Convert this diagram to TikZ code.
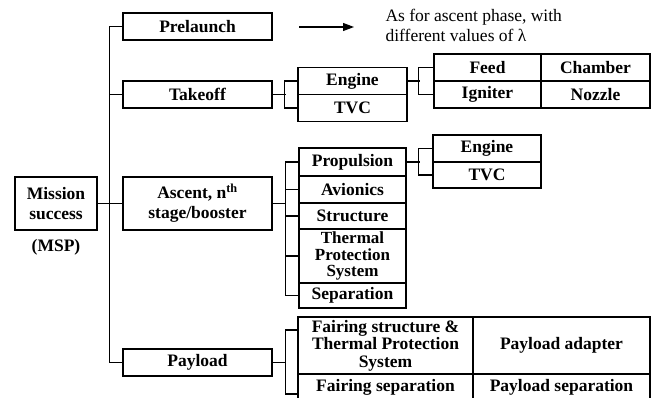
\documentclass[tikz,border=0pt]{standalone}
\usepackage{fontspec}
\setmainfont{Liberation Serif}
\usetikzlibrary{arrows.meta}
\begin{document}
\begin{tikzpicture}[x=1pt, y=-1pt, line width=1.1pt, box/.style={draw, font=\fontsize{17.5}{19}\selectfont\bfseries, align=center, inner sep=0pt}, note/.style={font=\fontsize{17.5}{20}\selectfont, align=left, inner sep=0pt}]
			\useasboundingbox (0,0) rectangle (654,397);
			\node[box, minimum width=82pt, minimum height=53pt, font=\fontsize{17.5}{20}\selectfont\bfseries] (mission) at (56,203.5) {Mission\\success};
			\node[font=\fontsize{17.5}{20}\selectfont\bfseries, inner sep=0pt] (msp) at (56,247) {(MSP)};
			\node[box, minimum width=149pt, minimum height=27pt] (prelaunch) at (197.5,26.5) {Prelaunch};
			\node[box, minimum width=149pt, minimum height=27pt] (takeoff) at (197.5,94.5) {Takeoff};
			\node[box, minimum width=149pt, minimum height=53pt, font=\fontsize{17.5}{20}\selectfont\bfseries] (ascent) at (197.5,203.5) {Ascent, n\textsuperscript{th}\\stage/booster};
			\node[box, minimum width=149pt, minimum height=27pt] (payload) at (197.5,362.5) {Payload};
			\draw (mission.east) -- (ascent.west);
			\draw (prelaunch.west) -- ++(-13,0) |- (payload.west);
			\draw (takeoff.west) -- ++(-13,0);
			\coordinate (arrtail) at (299,27);
			\coordinate (arrhead) at (354,27);
			\draw[-{Triangle[length=11pt, width=8pt]}] (arrtail) -- (arrhead);
			\node[note, anchor=west] (lambda) at (385,25) {As for ascent phase, with\\different values of λ};
			\node[box, minimum width=109pt, minimum height=27pt] (engA) at (352.5,81) {Engine};
			\node[box, minimum width=109pt, minimum height=27pt] (tvcA) at (352.5,108) {TVC};
			\draw (takeoff.east) -- ++(13.5,0);
			\draw (engA.west) -- ++(-13,0) |- (tvcA.west);
			\node[box, minimum width=107pt, minimum height=27pt] (feed) at (487.5,67.5) {Feed};
			\node[box, minimum width=107pt, minimum height=27pt] (igniter) at (487.5,94.5) {Igniter};
			\node[box, minimum width=109pt, minimum height=27pt] (chamber) at (595.5,67.5) {Chamber};
			\node[box, minimum width=109pt, minimum height=27pt] (nozzle) at (595.5,94.5) {Nozzle};
			\draw (engA.east) -- ++(12,0);
			\draw (feed.west) -- ++(-15,0) |- (igniter.west);
			\node[box, minimum width=107pt, minimum height=28pt] (prop) at (352.5,162) {Propulsion};
			\node[box, minimum width=107pt, minimum height=27pt] (avio) at (352.5,189.5) {Avionics};
			\node[box, minimum width=107pt, minimum height=26pt] (struc) at (352.5,216) {Structure};
			\node[box, minimum width=107pt, minimum height=54pt, font=\fontsize{17}{16.5}\selectfont\bfseries] (tps) at (352.5,256) {Thermal\\Protection\\System};
			\node[box, minimum width=107pt, minimum height=25pt] (sep) at (352.5,295.5) {Separation};
			\draw (ascent.east) -- ++(13.5,0);
			\draw (prop.west) -- ++(-13,0) |- (sep.west);
			\foreach \n in {avio, struc, tps}
				\draw (\n.west) -- ++(-13,0);
			\node[box, minimum width=108pt, minimum height=27pt] (engB) at (487,148.5) {Engine};
			\node[box, minimum width=108pt, minimum height=26pt] (tvcB) at (487,175) {TVC};
			\draw (prop.east) -- ++(13,0);
			\draw (engB.west) -- ++(-14,0) |- (tvcB.west);
			\node[box, minimum width=175pt, minimum height=57pt, font=\fontsize{17.5}{17.5}\selectfont\bfseries] (fstruc) at (385.5,345.5) {Fairing structure \&\\Thermal Protection\\System};
			\node[box, minimum width=177pt, minimum height=57pt] (adapter) at (561.5,345.5) {Payload adapter};
			\node[box, minimum width=175pt, minimum height=27pt] (fsep) at (385.5,387.5) {Fairing separation};
			\node[box, minimum width=177pt, minimum height=27pt] (psep) at (561.5,387.5) {Payload separation};
			\draw (payload.east) -- ++(13.5,0);
			\draw ([yshift=15.5pt]fstruc.west) -- ++(-12,0) |- ([yshift=-6.5pt]fsep.west);
\end{tikzpicture}
\end{document}
